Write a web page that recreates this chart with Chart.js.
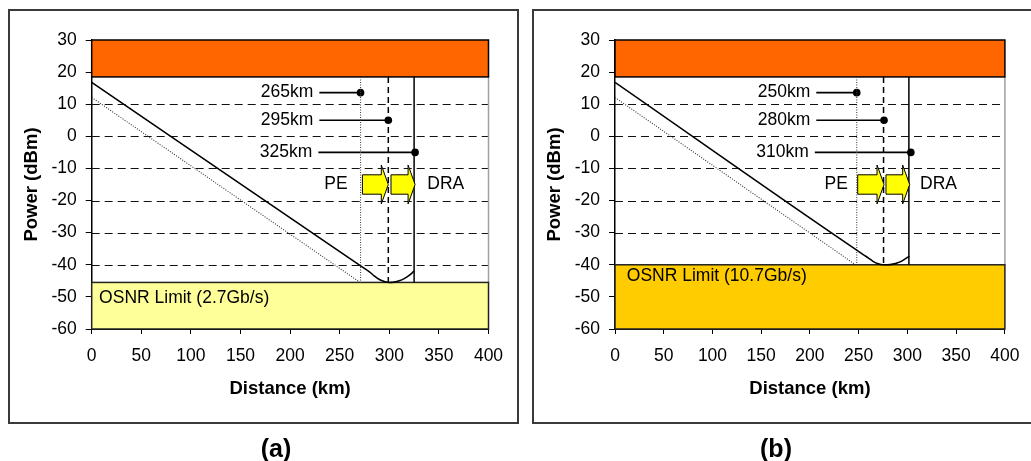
<!DOCTYPE html>
<html>
<head>
<meta charset="utf-8">
<script src="https://cdn.jsdelivr.net/npm/chart.js@4.4.1/dist/chart.umd.min.js"></script>
<style>
  body { margin: 0; background: #fff; width: 1031px; height: 461px; overflow: hidden; position: relative; }
  .frame { position: absolute; top: 9px; height: 411px; border: 2px solid #3a3a3a; }
  #frameA { left: 8px; width: 507px; }
  #frameB { left: 532px; width: 520px; }
  canvas { position: absolute; top: 0; }
  #chartA { left: 0; }
  #chartB { left: 520px; }
  .tag { position: absolute; top: 434px; line-height: 25px; font: bold 25px "Liberation Sans", Arial, sans-serif; transform: translateX(-50%); }
</style>
</head>
<body>
<div class="frame" id="frameA"></div>
<div class="frame" id="frameB"></div>
<canvas id="chartA" width="520" height="461"></canvas>
<canvas id="chartB" width="511" height="461"></canvas>
<div class="tag" style="left:276px">(a)</div>
<div class="tag" style="left:776px">(b)</div>
<script>
const FONT = '"Liberation Sans", Arial, sans-serif';

// axes
const distTicks = [0, 50, 100, 150, 200, 250, 300, 350, 400];
const powerTicks = [30, 20, 10, 0, -10, -20, -30, -40, -50, -60];
const gridPower = [10, 0, -10, -20, -30, -40];
const maxPowerBand = [18.5, 30]; // orange band (dBm)

// (a) 2.7 Gb/s
const distA = [0, 270, 280, 285, 290, 295, 300, 305, 310, 315, 320, 325];
const powerA = [16.8, -40.1, -42.2, -43.5, -44.6, -45.2, -45.5, -45.4, -45.0, -44.3, -43.3, -42.0];
const lowDistA = [0, 270.6];
const lowPowerA = [12.1, -45.5];
const spanDistA = [271, 299, 325];
const spanLabelsA = ['265km', '295km', '325km'];
const dotDistA = [271, 299, 326];
const dotPowerA = [13.6, 5, -5];
const leaderFromA = [229.5, 229.5, 228.5];
const osnrA = [-60, -45.5];
const osnrTextA = 'OSNR Limit (2.7Gb/s)';
const arrowsA = [[272.9, 299], [301.7, 326]];
const peDraA = [258, 338.3];

// (b) 10.7 Gb/s
const distB = [0, 255, 260, 265, 270, 275, 280, 285, 290, 295, 302];
const powerB = [16.8, -36.9, -37.9, -39.0, -39.7, -40.0, -40.0, -39.8, -39.4, -38.7, -37.3];
const lowDistB = [0, 246.8];
const lowPowerB = [12.1, -40];
const spanDistB = [248, 275.5, 301.5];
const spanLabelsB = ['250km', '280km', '310km'];
const dotDistB = [248, 276, 303.5];
const dotPowerB = [13.6, 5, -5];
const leaderFromB = [206.5, 206.5, 205];
const osnrB = [-60, -40];
const osnrTextB = 'OSNR Limit (10.7Gb/s)';
const arrowsB = [[249, 276], [278, 302.3]];
const peDraB = [239, 313];

const arrowPower = -15;

function xy(xs, ys) {
  return xs.map((v, i) => ({ x: v, y: ys[i] }));
}

// background bands, dashed grid, arrows and texts
function sketchPlugin(d) {
  return {
    id: 'sketch',
    beforeDatasetsDraw(chart) {
      const { ctx, scales: { x, y } } = chart;
      const x0 = x.getPixelForValue(0), x1 = x.getPixelForValue(400);
      ctx.save();
      // dashed grid
      ctx.strokeStyle = '#111';
      ctx.lineWidth = 1;
      ctx.setLineDash([8, 5]);
      gridPower.forEach((p) => {
        const py = Math.round(y.getPixelForValue(p)) + 0.5;
        ctx.beginPath();
        ctx.moveTo(x0, py);
        ctx.lineTo(x1, py);
        ctx.stroke();
      });
      ctx.setLineDash([]);
      // right edge of plot
      ctx.strokeStyle = '#a0a0a0';
      ctx.lineWidth = 1.5;
      ctx.beginPath();
      ctx.moveTo(x1, y.getPixelForValue(maxPowerBand[0]));
      ctx.lineTo(x1, y.getPixelForValue(d.osnr[1]));
      ctx.stroke();
      // orange band
      const ot = y.getPixelForValue(maxPowerBand[1]), ob = y.getPixelForValue(maxPowerBand[0]);
      ctx.fillStyle = '#ff6600';
      ctx.fillRect(x0, ot, x1 - x0, ob - ot);
      ctx.strokeStyle = '#000';
      ctx.lineWidth = 1.5;
      ctx.strokeRect(x0, ot, x1 - x0, ob - ot);
      // osnr box
      const yt = y.getPixelForValue(d.osnr[1]), yb = y.getPixelForValue(d.osnr[0]);
      ctx.fillStyle = d.osnrColor;
      ctx.fillRect(x0, yt, x1 - x0, yb - yt);
      ctx.strokeStyle = '#222';
      ctx.strokeRect(x0, yt, x1 - x0, yb - yt);
      ctx.fillStyle = '#000';
      ctx.font = '17.5px ' + FONT;
      ctx.textAlign = 'left';
      ctx.textBaseline = 'middle';
      ctx.fillText(d.osnrText, x0 + d.osnrTextDx, yt + d.osnrTextDy);
      ctx.restore();
    },
    afterDatasetsDraw(chart) {
      const { ctx, scales: { x, y } } = chart;
      ctx.save();
      ctx.fillStyle = '#000';
      ctx.font = '17.5px ' + FONT;
      ctx.textBaseline = 'middle';
      ctx.textAlign = 'right';
      d.labels.forEach((t, i) => {
        ctx.fillText(t, x.getPixelForValue(d.leaderFrom[i]) - 6, y.getPixelForValue(d.dotPower[i]));
      });
      const ym = y.getPixelForValue(arrowPower);
      ctx.fillText('PE', x.getPixelForValue(d.peDra[0]), ym);
      ctx.textAlign = 'left';
      ctx.fillText('DRA', x.getPixelForValue(d.peDra[1]), ym);
      // block arrows
      d.arrows.forEach(([tail, tip]) => {
        const xt = x.getPixelForValue(tail), xp = x.getPixelForValue(tip);
        const xb = xp - 7, bh = 9.7, hh = 19.5;
        ctx.beginPath();
        ctx.moveTo(xt, ym - bh);
        ctx.lineTo(xb, ym - bh);
        ctx.lineTo(xb, ym - hh);
        ctx.lineTo(xp, ym);
        ctx.lineTo(xb, ym + hh);
        ctx.lineTo(xb, ym + bh);
        ctx.lineTo(xt, ym + bh);
        ctx.closePath();
        ctx.fillStyle = '#ffff00';
        ctx.fill();
        ctx.strokeStyle = '#000';
        ctx.lineWidth = 1;
        ctx.stroke();
      });
      ctx.restore();
    },
  };
}

function buildChart(id, d) {
  const datasets = [];
  datasets.push({ data: xy(d.dist, d.power), borderColor: '#000', borderWidth: 1.6, pointRadius: 0, cubicInterpolationMode: 'monotone' });
  datasets.push({ data: xy(d.lowDist, d.lowPower), borderColor: '#333', borderWidth: 1.1, borderDash: [1, 1.5], pointRadius: 0 });
  const vDash = [[1, 1.5], [6, 4], []];
  d.spanDist.forEach((v, i) => {
    datasets.push({
      data: [{ x: v, y: maxPowerBand[0] }, { x: v, y: d.osnr[1] }],
      borderColor: i === 0 ? '#444' : '#000',
      borderWidth: i === 0 ? 1.1 : 1.5,
      borderDash: vDash[i],
      pointRadius: 0,
    });
  });
  d.dotDist.forEach((v, i) => {
    datasets.push({
      data: [{ x: d.leaderFrom[i], y: d.dotPower[i] }, { x: v, y: d.dotPower[i] }],
      borderColor: '#000',
      borderWidth: 1.6,
      pointRadius: [0, 3.8],
      pointBackgroundColor: '#000',
      pointBorderWidth: 0,
    });
  });

  return new Chart(document.getElementById(id), {
    type: 'line',
    data: { datasets },
    options: {
      responsive: false,
      animation: false,
      events: [],
      layout: { padding: { left: d.padLeft, right: d.padRight, top: 40, bottom: 60.6 } },
      plugins: { legend: { display: false }, tooltip: { enabled: false } },
      scales: {
        x: {
          type: 'linear',
          min: 0,
          max: 400,
          afterBuildTicks: (s) => { s.ticks = distTicks.map((v) => ({ value: v })); },
          afterFit: (s) => { s.height = 71.4; },
          ticks: { color: '#000', font: { family: FONT, size: 17.5 }, padding: 11.5, maxRotation: 0, autoSkip: false },
          grid: { drawOnChartArea: false, drawTicks: true, tickLength: 5, tickColor: '#000' },
          border: { color: '#000', width: 1 },
          title: { display: true, text: 'Distance (km)', color: '#000', padding: 0, font: { family: FONT, size: 18.5, weight: 'bold' } },
        },
        y: {
          type: 'linear',
          min: -60,
          max: 30,
          afterBuildTicks: (s) => { s.ticks = powerTicks.map((v) => ({ value: v })); },
          afterFit: (s) => { s.width = 71.1; },
          ticks: { color: '#000', font: { family: FONT, size: 17.5 }, padding: 9 },
          grid: { drawOnChartArea: false, drawTicks: true, tickLength: 6, tickColor: '#000' },
          border: { color: '#000', width: 1.5 },
          title: { display: true, text: 'Power (dBm)', color: '#000', padding: 0, font: { family: FONT, size: 18.5, weight: 'bold' } },
        },
      },
    },
    plugins: [sketchPlugin(d)],
  });
}

buildChart('chartA', {
  dist: distA, power: powerA, lowDist: lowDistA, lowPower: lowPowerA,
  spanDist: spanDistA, labels: spanLabelsA, dotDist: dotDistA, dotPower: dotPowerA,
  leaderFrom: leaderFromA, osnr: osnrA, osnrText: osnrTextA, arrows: arrowsA, peDra: peDraA,
  osnrColor: '#ffff99', osnrTextDx: 7.4, osnrTextDy: 15.4,
  padLeft: 20.6, padRight: 31.5,
});

buildChart('chartB', {
  dist: distB, power: powerB, lowDist: lowDistB, lowPower: lowPowerB,
  spanDist: spanDistB, labels: spanLabelsB, dotDist: dotDistB, dotPower: dotPowerB,
  leaderFrom: leaderFromB, osnr: osnrB, osnrText: osnrTextB, arrows: arrowsB, peDra: peDraB,
  osnrColor: '#ffcc00', osnrTextDx: 11.8, osnrTextDy: 11.7,
  padLeft: 23.9, padRight: 18.7,
});
</script>
</body>
</html>
